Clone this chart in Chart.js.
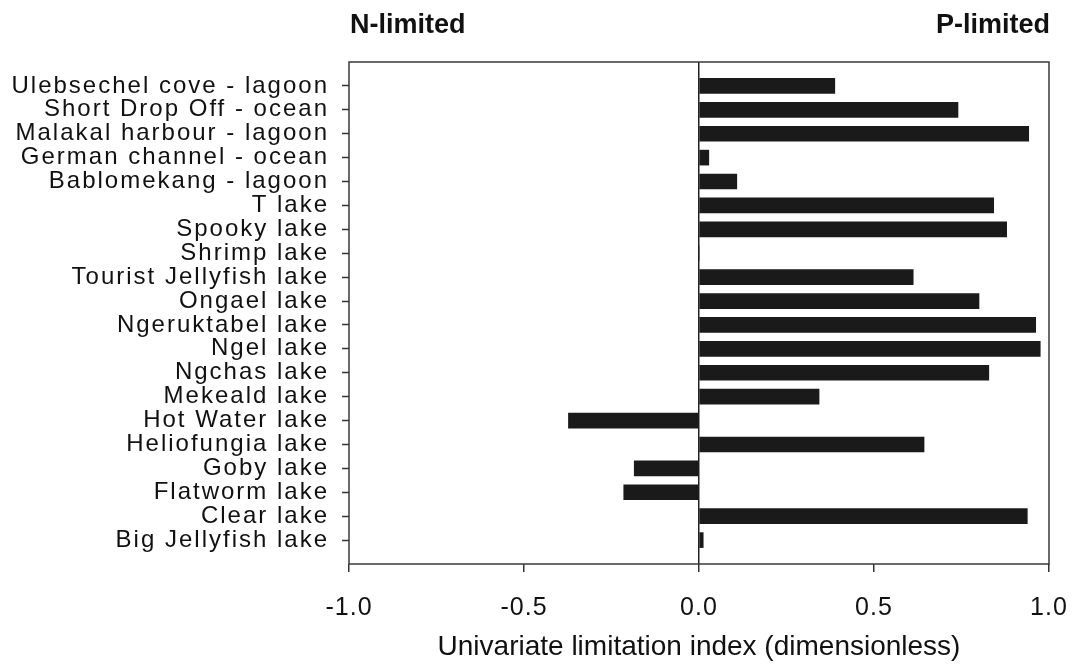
<!DOCTYPE html>
<html>
<head>
<meta charset="utf-8">
<script src="https://cdn.jsdelivr.net/npm/chart.js@4"></script>
<style>
  body { margin: 0; background: #fff; }
</style>
</head>
<body>
<canvas id="limitChart" width="1072" height="664"></canvas>
<script>
// sites top to bottom, index values
const sites = [
    "Ulebsechel cove - lagoon", "Short Drop Off - ocean", "Malakal harbour - lagoon",
    "German channel - ocean", "Bablomekang - lagoon", "T lake", "Spooky lake",
    "Shrimp lake", "Tourist Jellyfish lake", "Ongael lake", "Ngeruktabel lake",
    "Ngel lake", "Ngchas lake", "Mekeald lake", "Hot Water lake", "Heliofungia lake",
    "Goby lake", "Flatworm lake", "Clear lake", "Big Jellyfish lake"
]
const indexValues = [
    0.388, 0.740, 0.942, 0.028, 0.108, 0.842, 0.879,
    0, 0.612, 0.800, 0.962,
    0.975, 0.828, 0.343, -0.373, 0.643,
    -0.185, -0.215, 0.938, 0.012
]
const xTicks = [-1.0, -0.5, 0.0, 0.5, 1.0]
const headers = ["N-limited", "P-limited"]
const xTitle = "Univariate limitation index (dimensionless)"

const FONT = "'Liberation Sans', Arial, sans-serif"
const spacing = { x: '1px', y: '2px' }

// letter spaced tick labels, like the original figure
const spacedLabels = {
    id: 'spacedLabels',
    beforeDraw(chart) {
        Object.values(chart.scales).forEach(s => {
            if (s._spaced) return
            const orig = s.drawLabels.bind(s)
            s.drawLabels = function (area) {
                const ctx = this.ctx
                ctx.save()
                ctx.letterSpacing = spacing[this.id] || '0px'
                orig(area)
                ctx.restore()
            }
            s._spaced = true
        })
    }
}

// box around plot + the two headers
const frameAndHeaders = {
    id: 'frameAndHeaders',
    afterDraw(chart) {
        const ctx = chart.ctx
        const a = chart.chartArea
        ctx.save()
        ctx.strokeStyle = '#3a3a3a'
        ctx.lineWidth = 1.5
        ctx.strokeRect(a.left, a.top, a.right - a.left, a.bottom - a.top)
        ctx.fillStyle = '#111'
        ctx.font = "bold 27px " + FONT
        ctx.textBaseline = 'middle'
        ctx.textAlign = 'left'
        ctx.fillText(headers[0], a.left + 1, 26)
        ctx.textAlign = 'right'
        ctx.fillText(headers[1], a.right + 1, 26)
        ctx.restore()
    }
}

var ctx = document.getElementById("limitChart").getContext('2d')
var myChart = new Chart(ctx, {
    type: 'bar',
    data: {
        datasets: [{
            data: indexValues.map((v, i) => ({ x: v, y: i + 1 })),
            backgroundColor: '#1b1a1b',
            borderWidth: 0,
            barThickness: 15
        }]
    },
    options: {
        responsive: false,
        animation: false,
        indexAxis: 'y',
        layout: { padding: { left: 0, right: 23, top: 62, bottom: 0 } },
        plugins: {
            legend: { display: false },
            tooltip: { enabled: false }
        },
        scales: {
            x: {
                type: 'linear',
                min: -1,
                max: 1,
                afterBuildTicks: s => { s.ticks = xTicks.map(v => ({ value: v })) },
                afterFit: s => { s.height = 100; s.paddingLeft = 0; s.paddingRight = 0 },
                border: { display: false },
                grid: {
                    color: c => (c.tick && c.tick.value === 0) ? '#222' : 'rgba(0,0,0,0)',
                    lineWidth: 1.5,
                    tickColor: '#333',
                    tickLength: 8,
                    tickWidth: 1.5
                },
                ticks: {
                    color: '#111',
                    padding: 21,
                    maxRotation: 0,
                    font: { family: FONT, size: 25 },
                    callback: v => v.toFixed(1)
                },
                title: {
                    display: true,
                    text: xTitle,
                    color: '#111',
                    padding: 0,
                    font: { family: FONT, size: 28 }
                }
            },
            y: {
                type: 'linear',
                min: 0,
                max: sites.length + 1,
                reverse: true,
                offset: false,
                afterBuildTicks: s => { s.ticks = sites.map((_, i) => ({ value: i + 1 })) },
                afterFit: s => { s.width = 349; s.paddingTop = 0; s.paddingBottom = 0 },
                border: { display: false },
                grid: {
                    offset: false,
                    drawOnChartArea: false,
                    tickColor: '#333',
                    tickLength: 7,
                    tickWidth: 1.5
                },
                ticks: {
                    color: '#111',
                    padding: 13,
                    autoSkip: false,
                    font: { family: FONT, size: 24 },
                    callback: v => sites[v - 1]
                }
            }
        }
    },
    plugins: [spacedLabels, frameAndHeaders]
})
</script>
</body>
</html>
